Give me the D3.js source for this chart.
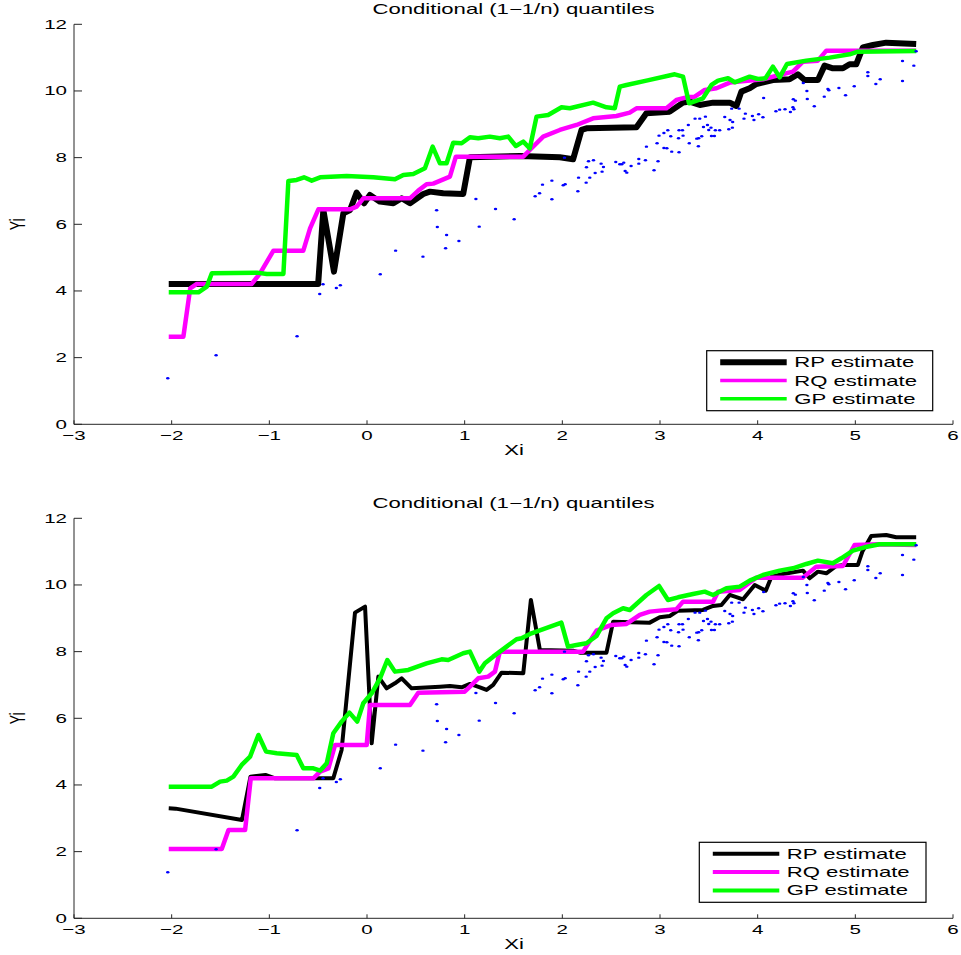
<!DOCTYPE html>
<html>
  <head>
    <meta charset="utf-8">
    <script src="https://cdn.jsdelivr.net/npm/d3@7"></script>
    <style>
      body { margin: 0; background: #fff; }
      text { font-family: "Liberation Sans", Arial, sans-serif; fill: #000; }
    </style>
  </head>
  <body>
    <div id="my_dataviz"></div>
  <script>

    // observations (blue dots), same in both panels
    let xi = [-2.04,-1.545,-0.716,-0.484,-0.45,-0.314,-0.273,0.136,0.293,0.573,0.713,0.72,0.815,0.805,0.941,1.115,1.149,1.316,1.507,1.722,
              1.767,1.797,1.893,1.893,2.009,2.029,2.022,2.159,2.166,2.244,2.281,2.247,2.268,2.319,2.336,2.397,2.421,2.407,2.547,2.588,
              2.609,2.629,2.643,2.66,2.704,2.783,2.783,2.851,2.861,2.939,2.97,2.98,2.99,3.04,3.08,3.11,3.04,3.07,3.12,3.195,
              3.23,3.19,3.236,3.195,3.29,3.30,3.359,3.407,3.465,3.396,3.376,3.427,3.393,3.445,3.486,3.499,3.522,3.527,3.557,3.567,
              3.611,3.663,3.704,3.717,3.744,3.741,3.734,3.81,3.874,3.86,3.946,3.962,4.01,4.054,4.061,4.187,4.225,4.28,4.335,4.361,
              4.371,4.365,4.386,4.467,4.504,4.508,4.58,4.682,4.719,4.729,4.832,4.90,4.989,5.128,5.128,5.255,5.21,5.483,5.483,5.599,5.623];
    let yi = [1.38,2.07,2.64,3.91,4.2,4.09,4.17,4.5,5.21,5.03,6.42,5.92,5.68,5.28,5.50,6.76,5.93,6.46,6.15,6.84,
              6.93,7.19,7.31,6.75,7.17,7.20,8.0,6.99,7.40,7.25,7.40,7.71,7.89,7.92,7.54,7.82,7.72,7.58,7.87,7.80,
              7.80,7.85,7.60,7.55,7.75,7.96,7.82,7.92,8.33,7.62,8.43,7.89,8.66,8.74,8.82,8.64,8.29,8.28,8.18,8.82,
              8.82,8.58,8.66,8.16,8.98,8.43,9.17,9.17,9.23,8.58,8.57,8.64,8.34,8.92,8.98,8.83,8.90,8.65,8.65,8.82,
              8.82,9.22,8.85,9.13,9.07,8.90,9.47,9.47,9.32,9.17,9.25,9.13,9.30,9.21,9.79,9.39,9.44,9.45,9.37,9.51,
              9.45,9.75,9.71,10.24,10.0,9.76,9.54,9.83,10.06,10.02,10.09,9.87,10.14,10.56,10.45,10.35,10.21,10.90,10.30,10.76,11.19];

    // top panel estimates [x, y]
    let rpTop = [[-2.03,4.21],[-0.50,4.21],[-0.447,6.43],[-0.338,4.58],[-0.242,6.33],[-0.174,6.43],[-0.106,6.95],[-0.03,6.63],
                 [0.03,6.88],[0.133,6.68],[0.27,6.63],[0.355,6.78],[0.44,6.63],[0.576,6.91],[0.645,6.98],[0.78,6.93],[0.985,6.91],
                 [1.054,8.01],[1.565,8.05],[1.974,8.01],[2.11,7.95],[2.196,8.83],[2.247,8.88],[2.759,8.91],[2.861,9.33],[3.10,9.38],
                 [3.236,9.65],[3.304,9.68],[3.407,9.58],[3.543,9.65],[3.714,9.65],[3.782,9.55],[3.833,9.98],[3.918,10.08],[3.986,10.21],
                 [4.156,10.33],[4.327,10.35],[4.412,10.50],[4.481,10.33],[4.617,10.33],[4.685,10.76],[4.77,10.68],[4.873,10.68],
                 [4.941,10.80],[5.009,10.80],[5.077,11.31],[5.18,11.38],[5.316,11.45],[5.623,11.41]];
    let rqTop = [[-2.03,2.63],[-1.88,2.63],[-1.81,4.08],[-1.742,4.21],[-1.18,4.21],[-1.095,4.53],[-0.958,5.21],[-0.652,5.21],
                 [-0.583,5.88],[-0.498,6.45],[-0.174,6.45],[-0.106,6.53],[-0.038,6.78],[0.44,6.78],[0.525,7.01],[0.61,7.2],[0.678,7.22],
                 [0.849,7.43],[0.91,8.03],[1.60,8.03],[1.667,8.23],[1.804,8.63],[1.974,8.83],[2.145,8.98],[2.315,9.18],[2.554,9.25],
                 [2.69,9.35],[2.759,9.48],[3.066,9.48],[3.168,9.73],[3.27,9.81],[3.356,9.83],[3.458,10.03],[3.578,10.08],[3.714,10.25],
                 [3.816,10.28],[4.054,10.35],[4.361,10.58],[4.464,10.88],[4.617,10.91],[4.703,11.21],[5.623,11.21]];
    let gpTop = [[-2.03,3.96],[-1.726,3.96],[-1.64,4.13],[-1.589,4.53],[-1.128,4.55],[-1.026,4.51],[-0.856,4.51],[-0.805,7.30],
                 [-0.72,7.33],[-0.645,7.41],[-0.566,7.31],[-0.48,7.41],[-0.208,7.45],[0.065,7.41],[0.286,7.35],[0.372,7.48],[0.474,7.51],
                 [0.593,7.68],[0.672,8.33],[0.747,7.83],[0.815,7.83],[0.883,8.45],[0.969,8.43],[1.054,8.61],[1.139,8.58],[1.258,8.63],
                 [1.36,8.58],[1.446,8.63],[1.524,8.35],[1.60,8.48],[1.667,8.28],[1.736,9.23],[1.855,9.28],[1.992,9.51],[2.077,9.48],
                 [2.315,9.65],[2.452,9.51],[2.537,9.48],[2.588,10.13],[2.657,10.18],[2.861,10.31],[3.151,10.50],[3.236,10.43],[3.297,9.63],
                 [3.44,9.78],[3.527,10.18],[3.594,10.31],[3.697,10.38],[3.765,10.26],[3.918,10.43],[4.003,10.36],[4.08,10.38],[4.156,10.73],
                 [4.225,10.41],[4.30,10.81],[4.498,10.91],[4.737,11.0],[4.941,11.10],[5.026,11.18],[5.623,11.2]];

    // bottom panel estimates [x, y]
    let rpBot = [[-2.03,3.30],[-1.96,3.29],[-1.28,2.95],[-1.193,4.25],[-1.04,4.30],[-0.94,4.20],[-0.345,4.20],[-0.26,5.05],
                 [-0.123,9.17],[-0.02,9.35],[0.048,5.25],[0.116,7.25],[0.201,6.90],[0.286,7.05],[0.355,7.20],[0.457,6.90],[0.747,6.95],
                 [0.849,6.97],[0.969,6.93],[1.054,7.03],[1.156,6.93],[1.224,6.85],[1.292,7.0],[1.378,7.37],[1.60,7.35],[1.678,9.55],
                 [1.77,8.05],[2.11,8.03],[2.18,7.97],[2.452,7.97],[2.52,8.90],[2.895,8.87],[2.997,9.03],[3.10,9.07],[3.185,9.23],
                 [3.44,9.25],[3.543,9.37],[3.629,9.40],[3.714,9.70],[3.85,9.57],[3.97,10.0],[4.083,9.83],[4.141,10.25],[4.26,10.33],
                 [4.464,10.43],[4.532,10.20],[4.617,10.40],[4.703,10.35],[4.805,10.57],[4.89,10.60],[5.026,10.60],[5.072,11.0],
                 [5.163,11.47],[5.316,11.50],[5.418,11.43],[5.623,11.43]];
    let rqBot = [[-2.03,2.08],[-1.487,2.08],[-1.418,2.65],[-1.248,2.65],[-1.19,4.20],[-0.549,4.20],[-0.48,4.40],[-0.395,4.50],
                 [-0.327,5.20],[-0.003,5.20],[0.031,6.40],[0.44,6.40],[0.525,6.77],[1.0,6.80],[1.054,6.95],[1.139,7.20],[1.241,7.25],
                 [1.31,7.40],[1.36,8.0],[2.213,8.0],[2.35,8.63],[2.503,8.80],[2.657,8.83],[2.793,9.10],[2.895,9.20],[2.997,9.23],
                 [3.168,9.27],[3.236,9.50],[3.543,9.50],[3.594,9.80],[3.816,9.85],[3.986,10.22],[4.464,10.22],[4.60,10.55],[4.873,10.57],
                 [4.992,11.20],[5.248,11.22],[5.623,11.20]];
    let gpBot = [[-2.03,3.95],[-1.589,3.95],[-1.504,4.10],[-1.436,4.13],[-1.368,4.25],[-1.283,4.60],[-1.197,4.85],[-1.112,5.50],
                 [-1.033,5.0],[-0.924,4.95],[-0.72,4.90],[-0.652,4.50],[-0.549,4.50],[-0.48,4.43],[-0.412,4.65],[-0.345,5.55],
                 [-0.26,5.90],[-0.18,6.17],[-0.1,5.90],[-0.038,6.45],[0.048,6.75],[0.133,7.20],[0.208,7.75],[0.286,7.40],[0.423,7.45],
                 [0.61,7.65],[0.764,7.77],[0.832,7.75],[0.985,7.95],[1.054,8.0],[1.149,7.40],[1.207,7.65],[1.292,7.85],[1.429,8.15],
                 [1.531,8.37],[1.582,8.40],[1.684,8.55],[1.99,8.87],[2.058,8.15],[2.145,8.20],[2.247,8.25],[2.35,8.47],[2.452,9.0],
                 [2.52,9.15],[2.622,9.30],[2.69,9.25],[2.861,9.70],[2.99,9.97],[3.082,9.55],[3.185,9.63],[3.338,9.73],[3.458,9.80],
                 [3.543,9.70],[3.68,9.90],[3.816,9.95],[3.918,10.13],[4.054,10.30],[4.225,10.43],[4.361,10.50],[4.498,10.63],
                 [4.617,10.73],[4.77,10.65],[4.856,10.80],[4.975,11.03],[5.094,11.13],[5.248,11.22],[5.623,11.22]];

    let xTicks = [-3, -2, -1, 0, 1, 2, 3, 4, 5, 6];
    let yTicks = [0, 2, 4, 6, 8, 10, 12];
    let legendNames = ["RP estimate", "RQ estimate", "GP estimate"];
    let titleText = "Conditional (1\u22121/n) quantiles";

    let sx = 1.58;   // picture is stretched horizontally

    let svg = d3.select("#my_dataviz")
                .append("svg")
                  .attr("width", 961)
                  .attr("height", 955);

    let x = d3.scaleLinear().domain([-3, 6]).range([74, 953]);

    function stext(g, px, py, str, size, anchor, rot) {
        g.append("text")
         .attr("transform", "translate(" + px + "," + py + ") scale(" + sx + ",1)" + (rot ? " rotate(" + rot + ")" : ""))
         .attr("text-anchor", anchor)
         .style("font-size", size + "px")
         .text(str);
    }

    function panel(top, series, widths, legendBox) {
        let g = svg.append("g");
        let y = d3.scaleLinear().domain([0, 12]).range([top + 400, top]);

        // axes
        g.append("line").attr("x1", x(-3)).attr("x2", x(6)).attr("y1", y(0)).attr("y2", y(0))
         .attr("stroke", "#262626").attr("stroke-width", 1);
        g.append("line").attr("x1", x(-3)).attr("x2", x(-3)).attr("y1", y(0)).attr("y2", y(12))
         .attr("stroke", "#262626").attr("stroke-width", 1);

        xTicks.forEach(function(t) {
            g.append("line").attr("x1", x(t)).attr("x2", x(t)).attr("y1", y(0)).attr("y2", y(0) - 4)
             .attr("stroke", "#262626");
            stext(g, x(t), y(0) + 16, d3.format("")(t), 13, "middle");
        });
        yTicks.forEach(function(t) {
            g.append("line").attr("x1", x(-3)).attr("x2", x(-3) + 8).attr("y1", y(t)).attr("y2", y(t))
             .attr("stroke", "#262626");
            stext(g, x(-3) - 7, y(t) + 4.5, t, 13, "end");
        });

        stext(g, (x(-3) + x(6)) / 2, top - 10, titleText, 14, "middle");
        stext(g, 514, top + 431, "Xi", 14, "middle");
        stext(g, 25, top + 200, "Yi", 14, "middle", -90);

        let line = d3.line()
                     .x(function(d) { return x(d[0]); })
                     .y(function(d) { return y(d[1]); });

        let colors = ["#000000", "#ff00ff", "#00ff00"];
        series.forEach(function(s, i) {
            g.append("path")
             .datum(s)
             .attr("fill", "none")
             .attr("stroke", colors[i])
             .attr("stroke-width", widths[i])
             .attr("stroke-linejoin", "round")
             .attr("d", line);
        });

        g.append("g")
         .selectAll("ellipse")
         .data(xi)
         .enter()
         .append("ellipse")
           .attr("cx", function(d) { return x(d); })
           .attr("cy", function(d, i) { return y(yi[i]); })
           .attr("rx", 1.7)
           .attr("ry", 1.2)
           .attr("fill", "#0000ff");

        // legend
        let lb = legendBox;
        g.append("rect")
         .attr("x", lb.x).attr("y", lb.y).attr("width", lb.w).attr("height", 60)
         .attr("fill", "white").attr("stroke", "#000").attr("stroke-width", 1.2);
        legendNames.forEach(function(name, i) {
            let ly = lb.y + 11.5 + i * 18.3;
            g.append("line")
             .attr("x1", lb.x + 13.5).attr("x2", lb.x + 80).attr("y1", ly).attr("y2", ly)
             .attr("stroke", colors[i]).attr("stroke-width", lb.lw[i]);
            stext(g, lb.x + 87.5, ly + 5, name, 14, "start");
        });
    }

    panel(24.3, [rpTop, rqTop, gpTop], [6, 4.5, 4.5], {x: 706.7, y: 350.7, w: 226, lw: [6, 3.5, 3.5]});
    panel(518.3, [rpBot, rqBot, gpBot], [4, 4.5, 4.5], {x: 699.3, y: 842.3, w: 226.7, lw: [4, 4, 4]});

  </script>
  </body>
</html>
